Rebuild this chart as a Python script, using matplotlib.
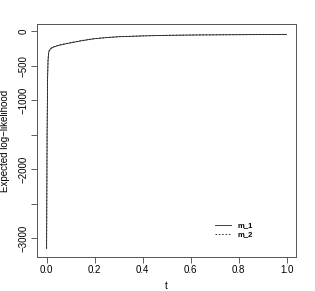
import matplotlib
matplotlib.use('Agg')
import matplotlib.pyplot as plt

# data
t = [0.0, 0.002, 0.004, 0.006, 0.008, 0.01, 0.015, 0.02, 0.03, 0.05, 0.08,
     0.1, 0.15, 0.2, 0.25, 0.3, 0.4, 0.5, 0.6, 0.7, 0.8, 0.9, 1.0]
m_1 = [-3150, -1500, -700, -420, -330, -290, -262, -245, -228, -205, -182,
       -168, -135, -108, -92, -80, -68, -60, -55, -52, -50, -48, -46]
m_2 = [-3140, -1480, -690, -410, -322, -282, -255, -240, -224, -200, -178,
       -164, -132, -106, -90, -78, -66, -58, -54, -51, -49, -47, -45]

yticks = [0, -500, -1000, -1500, -2000, -2500, -3000]
ylabels = ['0', '-500', '-1000', '', '-2000', '', '-3000']
xticks = [0.0, 0.2, 0.4, 0.6, 0.8, 1.0]

plt.rcParams['font.family'] = ['Liberation Sans', 'DejaVu Sans']
fig = plt.figure(figsize=(3.15, 2.91), dpi=100)
ax = fig.add_axes([0.1175, 0.1168, 0.8225, 0.8007])

ax.plot(t, m_1, color='#222222', lw=0.6, label='m_1')
ax.plot(t, m_2, color='#222222', lw=0.6, ls=(0, (2, 2)), label='m_2')

ax.set_xlim(-0.04, 1.04)
ax.set_ylim(-3270, 105)
ax.set_xticks(xticks)
ax.set_xticklabels(['0.0', '0.2', '0.4', '0.6', '0.8', '1.0'])
ax.set_yticks(yticks)
ax.set_yticklabels([l.replace('-', '\u2212') for l in ylabels], rotation=90, va='center')
ax.tick_params(direction='out', length=4, width=0.6, labelsize=7, color='#444444', pad=2)
for s in ax.spines.values():
    s.set_linewidth(0.7)
    s.set_color('#555555')

ax.set_xlabel('t', fontsize=7, labelpad=4)
ax.set_ylabel('Expected log\u2212likelihood', fontsize=7, labelpad=6)

leg = ax.legend(loc='lower right', bbox_to_anchor=(0.86, 0.05), frameon=False,
                fontsize=5.5, handlelength=2.2, labelspacing=0.2, handletextpad=0.8,
                prop={'size': 5.5, 'weight': 'bold'})

fig.savefig('out.png', dpi=100)
